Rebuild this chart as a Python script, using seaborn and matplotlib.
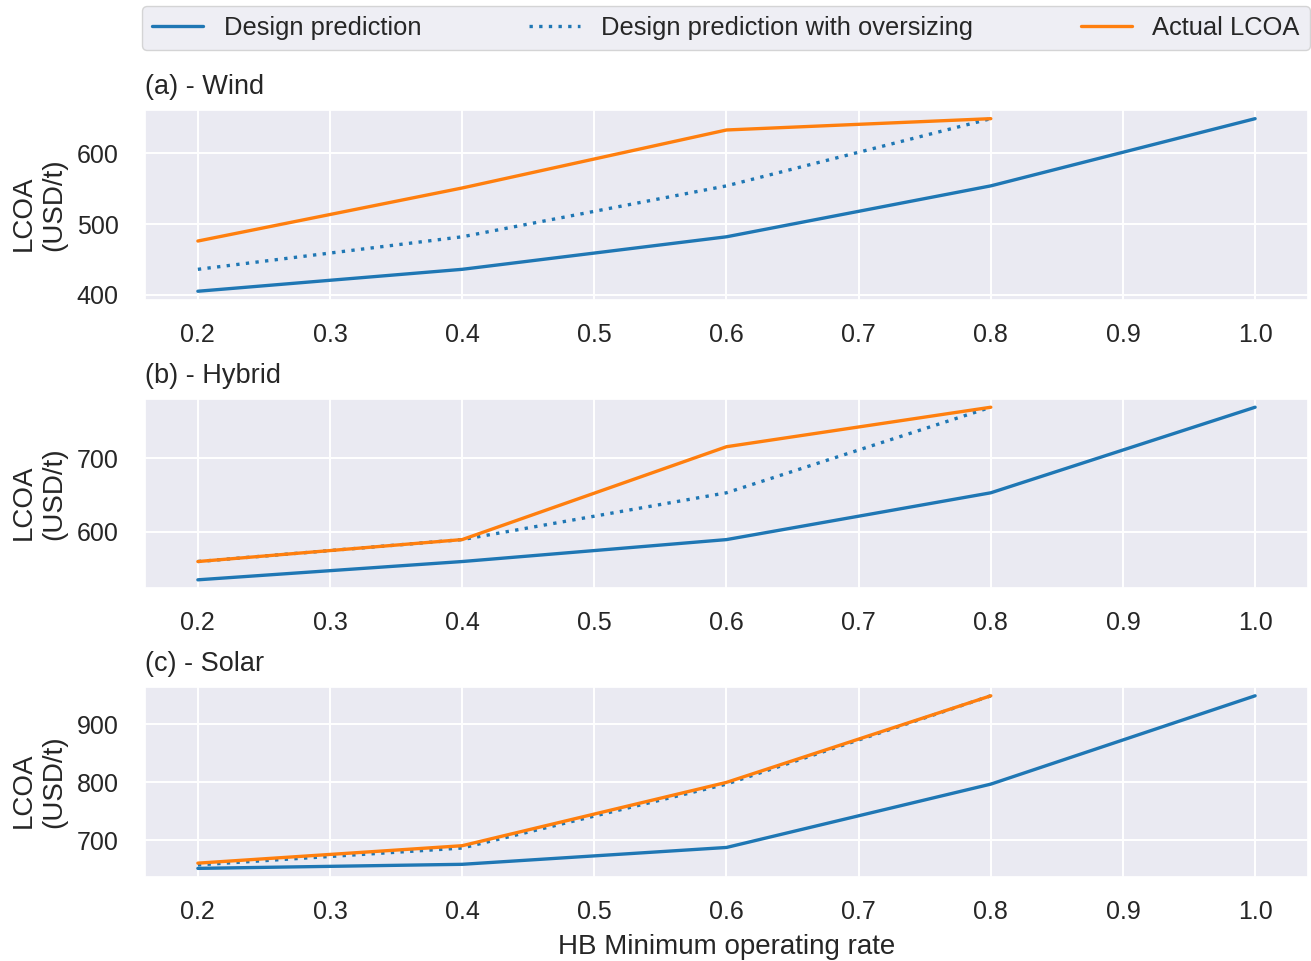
import numpy as np
import pandas as pd
import matplotlib
matplotlib.use("Agg")
import matplotlib.pyplot as plt
import seaborn as sns

# Minimum operating rate of the Haber-Bosch unit
rates = [0.2, 0.4, 0.6, 0.8, 1.0]
rates_short = [0.2, 0.4, 0.6, 0.8]

# LCOA (USD/t) per renewable supply case
wind_design = [405, 436, 482, 554, 649]
wind_oversize = [436, 482, 554, 649]
wind_actual = [476, 551, 633, 649]

hybrid_design = [534, 559, 589, 653, 770]
hybrid_oversize = [559, 589, 653, 770]
hybrid_actual = [559, 589, 716, 770]

solar_design = [652, 659, 688, 797, 949]
solar_oversize = [658, 687, 797, 949]
solar_actual = [661, 691, 800, 949]

panel_titles = ["(a) - Wind", "(b) - Hybrid", "(c) - Solar"]
series_names = ["Design prediction", "Design prediction with oversizing", "Actual LCOA"]
xticks = [0.2, 0.3, 0.4, 0.5, 0.6, 0.7, 0.8, 0.9, 1.0]

cases = [
    (wind_design, wind_oversize, wind_actual),
    (hybrid_design, hybrid_oversize, hybrid_actual),
    (solar_design, solar_oversize, solar_actual),
]

rows = []
for title, (d, o, a) in zip(panel_titles, cases):
    for x, v in zip(rates, d):
        rows.append((title, series_names[0], x, v))
    for x, v in zip(rates_short, o):
        rows.append((title, series_names[1], x, v))
    for x, v in zip(rates_short, a):
        rows.append((title, series_names[2], x, v))
df = pd.DataFrame(rows, columns=["case", "series", "rate", "lcoa"])

sns.set_theme(style="darkgrid")
plt.rcParams["font.family"] = ["Liberation Sans", "DejaVu Sans"]
plt.rcParams["xtick.major.pad"] = 10.5
plt.rcParams["ytick.major.pad"] = 13
plt.rcParams["grid.linewidth"] = 1.4

palette = {series_names[0]: "#1f77b4", series_names[1]: "#1f77b4", series_names[2]: "#ff7f0e"}
dashes = {series_names[0]: "", series_names[1]: (1, 1.9), series_names[2]: ""}
lw = 2.4

fig, axes = plt.subplots(3, 1, figsize=(13.11, 9.61), dpi=100)
fig.subplots_adjust(left=0.1106, right=0.9977, top=0.8855, bottom=0.0874, hspace=0.52)

for ax, title in zip(axes, panel_titles):
    sub = df[df["case"] == title]
    sns.lineplot(data=sub, x="rate", y="lcoa", hue="series", style="series",
                 hue_order=series_names, style_order=series_names,
                 palette=palette, dashes=dashes, linewidth=lw, ax=ax, legend=True)
    ax.set_title(title, loc="left", fontsize=19.5, pad=11.5)
    ax.set_xticks(xticks)
    ax.set_xticklabels([f"{t:.1f}" for t in xticks])
    ax.tick_params(labelsize=18)
    ax.set_ylabel("LCOA\n(USD/t)", fontsize=20, labelpad=7, multialignment="left")
    ax.set_xlabel("")
    handles, labels = ax.get_legend_handles_labels()
    ax.get_legend().remove()

axes[2].set_xlabel("HB Minimum operating rate", fontsize=20, labelpad=7)

x0 = 142 / 1311
w = (1310 - 142) / 1311
leg = fig.legend(handles, labels, loc="lower left", ncol=3, mode="expand",
                 bbox_to_anchor=(x0, 1 - 50 / 961, w, 0.04), borderaxespad=0,
                 fontsize=18.4, frameon=True)
for line in leg.get_lines():
    line.set_linewidth(lw)

fig.savefig("out.png", dpi=100)
